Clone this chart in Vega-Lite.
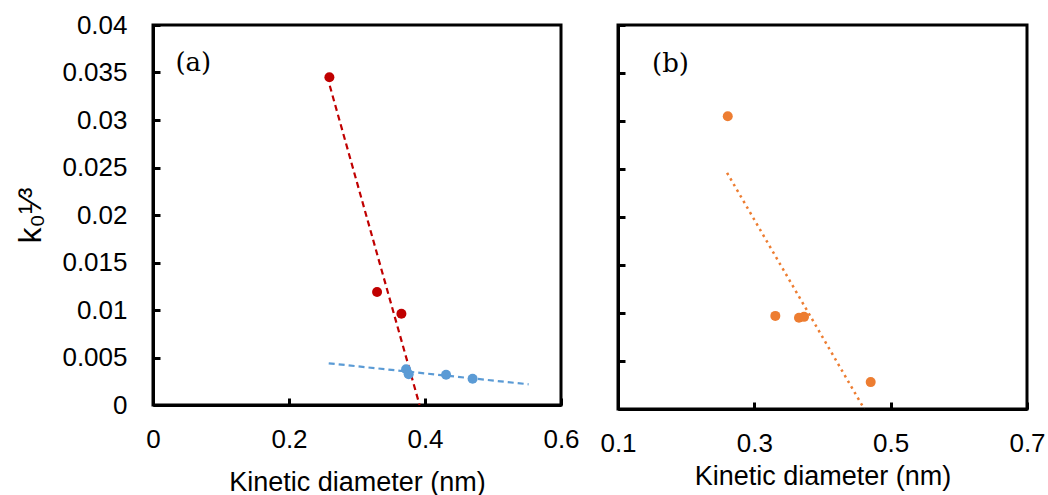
{
  "$schema": "https://vega.github.io/schema/vega-lite/v6.json",
  "padding": {"left": 13, "top": 10, "right": 5, "bottom": 0},
  "bounds": "flush",
  "spacing": 57,
  "config": {
    "font": "Liberation Sans",
    "view": {"stroke": "black", "strokeWidth": 3},
    "axis": {
      "domainColor": "black", "domainWidth": 3,
      "tickColor": "black", "tickWidth": 3, "tickSize": -7,
      "labelFont": "Liberation Sans", "labelFontSize": 26, "labelColor": "black",
      "titleFont": "Liberation Sans", "titleFontSize": 27, "titleFontWeight": "normal", "titleColor": "black",
      "grid": false, "labelFlush": false, "labelOverlap": false
    }
  },
  "hconcat": [
    {
      "width": 408, "height": 380,
      "layer": [
        {
          "data": {"values": [{"x": 0.26, "y": 0.0336}, {"x": 0.392, "y": 0}]},
          "mark": {"type": "line", "color": "#C00000", "strokeWidth": 2.2, "strokeDash": [6, 4], "clip": true},
          "encoding": {
            "x": {"field": "x", "type": "quantitative", "scale": {"domain": [0, 0.6]},
                  "axis": {"values": [0, 0.2, 0.4, 0.6], "format": "~g", "title": "Kinetic diameter (nm)", "labelPadding": 28, "titlePadding": 17}},
            "y": {"field": "y", "type": "quantitative", "scale": {"domain": [0, 0.04]},
                  "axis": {"values": [0, 0.005, 0.01, 0.015, 0.02, 0.025, 0.03, 0.035, 0.04], "format": "~g", "title": "k₀¹⁄³", "titleFontSize": 32, "labelPadding": 33, "titlePadding": 14}}
          }
        },
        {
          "data": {"values": [{"x": 0.2584, "y": 0.00439}, {"x": 0.5524, "y": 0.00218}]},
          "mark": {"type": "line", "color": "#5B9BD5", "strokeWidth": 2.2, "strokeDash": [6, 4]},
          "encoding": {"x": {"field": "x", "type": "quantitative"}, "y": {"field": "y", "type": "quantitative"}}
        },
        {
          "data": {"values": [{"x": 0.2594, "y": 0.0345}, {"x": 0.3295, "y": 0.0119}, {"x": 0.3653, "y": 0.0096}]},
          "mark": {"type": "circle", "color": "#C00000", "opacity": 1, "size": 100},
          "encoding": {"x": {"field": "x", "type": "quantitative"}, "y": {"field": "y", "type": "quantitative"}}
        },
        {
          "data": {"values": [{"x": 0.3722, "y": 0.00376}, {"x": 0.376, "y": 0.00323}, {"x": 0.431, "y": 0.00319}, {"x": 0.47, "y": 0.00277}]},
          "mark": {"type": "circle", "color": "#5B9BD5", "opacity": 1, "size": 100},
          "encoding": {"x": {"field": "x", "type": "quantitative"}, "y": {"field": "y", "type": "quantitative"}}
        },
        {
          "data": {"values": [{"x": 0.033, "y": 0.036, "label": "(a)"}]},
          "mark": {"type": "text", "font": "DejaVu Serif", "fontSize": 26, "align": "left", "baseline": "middle", "color": "black"},
          "encoding": {"x": {"field": "x", "type": "quantitative"}, "y": {"field": "y", "type": "quantitative"}, "text": {"field": "label"}}
        }
      ]
    },
    {
      "width": 409, "height": 384,
      "layer": [
        {
          "data": {"values": [{"x": 0.26, "y": 0.0246}, {"x": 0.4613, "y": 0}]},
          "mark": {"type": "line", "color": "#ED7D31", "strokeWidth": 2.5, "strokeDash": [2.5, 4], "clip": true},
          "encoding": {
            "x": {"field": "x", "type": "quantitative", "scale": {"domain": [0.1, 0.7]},
                  "axis": {"values": [0.1, 0.3, 0.5, 0.7], "format": "~g", "title": "Kinetic diameter (nm)", "labelPadding": 28, "titlePadding": 7}},
            "y": {"field": "y", "type": "quantitative", "scale": {"domain": [0, 0.04]},
                  "axis": {"values": [0, 0.005, 0.01, 0.015, 0.02, 0.025, 0.03, 0.035, 0.04], "labels": false, "title": null}}
          }
        },
        {
          "data": {"values": [{"x": 0.261, "y": 0.0305}, {"x": 0.3308, "y": 0.0097}, {"x": 0.3655, "y": 0.0095}, {"x": 0.3729, "y": 0.0096}, {"x": 0.4707, "y": 0.0028}]},
          "mark": {"type": "circle", "color": "#ED7D31", "opacity": 1, "size": 100},
          "encoding": {"x": {"field": "x", "type": "quantitative"}, "y": {"field": "y", "type": "quantitative"}}
        },
        {
          "data": {"values": [{"x": 0.15, "y": 0.0359, "label": "(b)"}]},
          "mark": {"type": "text", "font": "DejaVu Serif", "fontSize": 26, "align": "left", "baseline": "middle", "color": "black"},
          "encoding": {"x": {"field": "x", "type": "quantitative"}, "y": {"field": "y", "type": "quantitative"}, "text": {"field": "label"}}
        }
      ]
    }
  ]
}
